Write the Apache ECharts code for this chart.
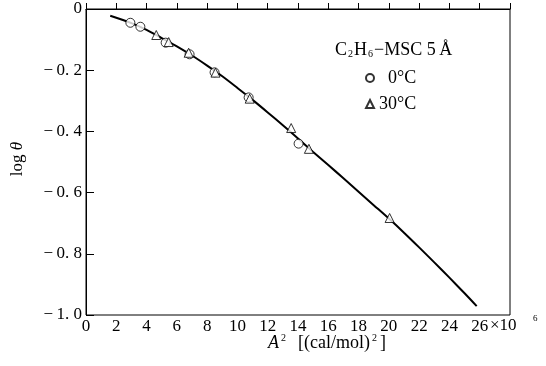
<!DOCTYPE html>
<html>
<head>
<meta charset="utf-8">
<script src="https://cdn.jsdelivr.net/npm/echarts@6/dist/echarts.min.js"></script>
<style>
html,body{margin:0;padding:0;background:#fff;}
#main{width:546px;height:366px;}
</style>
</head>
<body>
<div id="main"></div>
<script>
// A^2 in units of 10^6 (cal/mol)^2, log theta
var curveX = [1.6, 3, 4, 5, 6, 7, 8, 9, 10, 11, 12, 13, 14, 15, 16, 17, 18, 19, 20, 21, 22, 23, 24, 25, 25.8];
var curveY = [-0.022, -0.046, -0.068, -0.095, -0.122, -0.152, -0.185, -0.220, -0.258, -0.297, -0.338, -0.380, -0.423, -0.467, -0.510, -0.553, -0.597, -0.641, -0.685, -0.731, -0.779, -0.828, -0.878, -0.929, -0.971];

var x0C = [2.93, 3.59, 5.26, 6.84, 8.49, 10.74, 14.04];
var y0C = [-0.045, -0.058, -0.110, -0.148, -0.207, -0.289, -0.440];

var x30C = [4.64, 5.46, 6.78, 8.55, 10.81, 13.55, 14.72, 20.05];
var y30C = [-0.085, -0.108, -0.143, -0.208, -0.293, -0.389, -0.457, -0.683];

var xTicks = ['0', '2', '4', '6', '8', '10', '12', '14', '16', '18', '20', '22', '24', '26', ''];
var yTicks = ['0', '\u2212\u20090. 2', '\u2212\u20090. 4', '\u2212\u20090. 6', '\u2212\u20090. 8', '\u2212\u20091. 0'];

function pairs(xs, ys) {
	var out = [];
	for (var i = 0; i < xs.length; i++) {
		out.push([xs[i], ys[i]]);
	}
	return out;
}

var font = '"Liberation Serif", "DejaVu Serif", serif';
var chart = echarts.init(document.getElementById('main'));

var option = {
	animation: false,
	backgroundColor: '#fff',
	textStyle: { fontFamily: font, color: '#000' },
	grid: {
		left: 86, right: 36, top: 9, bottom: 51,
		show: true, borderColor: '#000', borderWidth: 1
	},
	xAxis: {
		type: 'value',
		min: 0, max: 28, interval: 2,
		splitLine: { show: false },
		axisLine: { lineStyle: { color: '#000', width: 1 } },
		axisTick: { inside: true, length: 6, lineStyle: { color: '#000' } },
		axisLabel: {
			color: '#000', fontFamily: font, fontSize: 17, margin: 3,
			formatter: function (v) {
				return xTicks[Math.round(v / 2)];
			}
		}
	},
	yAxis: {
		type: 'value',
		min: -1, max: 0, interval: 0.2,
		splitLine: { show: false },
		axisLine: { lineStyle: { color: '#000', width: 1 } },
		axisTick: { inside: true, length: 8, lineStyle: { color: '#000' } },
		axisLabel: {
			color: '#000', fontFamily: font, fontSize: 17, margin: 4,
			formatter: function (v) {
				return yTicks[Math.round(-v / 0.2)];
			}
		}
	},
	legend: {
		orient: 'vertical',
		left: 360, top: 64,
		itemWidth: 8, itemHeight: 8, itemGap: 8,
		textStyle: { fontFamily: font, fontSize: 18, color: '#000' },
		formatter: function (name) {
			return name === '0\u00b0C' ? '\u2007' + name : name;
		},
		data: [
			{ name: '0\u00b0C', icon: 'circle' },
			{ name: '30\u00b0C', icon: 'triangle' }
		]
	},
	graphic: [
		{
			type: 'text', x: 335, y: 50,
			style: {
				text: 'C{sub|2}H{sub|6}\u2212MSC 5\u2009\u00c5',
				font: '18px ' + font, fill: '#000', verticalAlign: 'middle',
				rich: { sub: { fontSize: 10, fontFamily: font, padding: [9, 1, 0, 1] } }
			}
		},
		{
			type: 'text', x: 490, y: 326,
			style: { text: '\u00d710', font: '17px ' + font, fill: '#000', verticalAlign: 'middle' }
		},
		{
			type: 'text', x: 533, y: 319,
			style: { text: '6', font: '9px ' + font, fill: '#000', verticalAlign: 'middle' }
		},
		{
			type: 'text', x: 327, y: 343,
			style: {
				text: '{i|A}{sup|2}  [(cal/mol){sup|2}]',
				font: '18px ' + font, fill: '#000', align: 'center', verticalAlign: 'middle',
				rich: {
					i: { fontStyle: 'italic', fontSize: 18, fontFamily: font },
					sup: { fontSize: 10, fontFamily: font, padding: [0, 3, 9, 2] }
				}
			}
		},
		{
			type: 'text', x: 18, y: 159, rotation: Math.PI / 2,
			style: {
				text: 'log {i|\u03b8}',
				font: '17px ' + font, fill: '#000', align: 'center', verticalAlign: 'middle',
				rich: { i: { fontStyle: 'italic', fontSize: 17, fontFamily: font } }
			}
		}
	],
	series: [
		{
			name: 'curve',
			type: 'line',
			smooth: 0.3,
			symbol: 'none',
			lineStyle: { color: '#000', width: 2 },
			data: pairs(curveX, curveY),
			z: 2
		},
		{
			name: '0\u00b0C',
			type: 'scatter',
			symbol: 'circle',
			symbolSize: 9,
			itemStyle: { color: '#fff', borderColor: '#000', borderWidth: 1 },
			data: pairs(x0C, y0C),
			z: 3
		},
		{
			name: '30\u00b0C',
			type: 'scatter',
			symbol: 'triangle',
			symbolSize: 9,
			itemStyle: { color: '#fff', borderColor: '#000', borderWidth: 1 },
			data: pairs(x30C, y30C),
			z: 3
		}
	]
};
chart.setOption(option);
</script>
</body>
</html>
